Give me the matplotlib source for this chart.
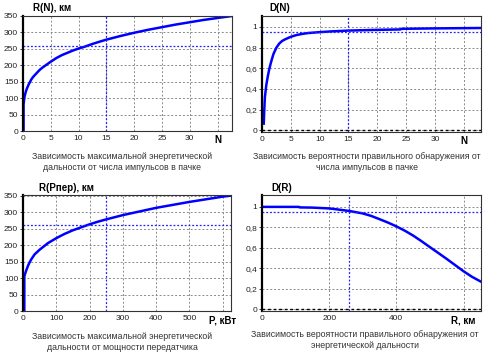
import numpy as np
import matplotlib
matplotlib.use("Agg")
import matplotlib.pyplot as plt

plt.rcParams['font.family'] = ['Liberation Sans', 'DejaVu Sans']

# R(N), km  vs number of pulses
n_r = [0.1, 0.1, 0.2, 0.3, 0.4, 0.55, 0.7, 0.85, 1, 1.25, 1.5, 1.75, 2, 2.5, 3, 3.5, 4, 4.5, 5, 6, 7, 8, 9, 10,
       11, 12.5, 14, 15, 17.5, 20, 22.5, 25, 27.5, 30, 32.5, 35, 37.6]
r_n = [0, 80, 95, 106, 113, 122, 129, 135, 141, 149, 157, 163, 168, 177, 186, 193, 199, 205, 211, 222, 231, 238, 245, 251,
       256, 265, 273, 278, 289, 299, 308, 316, 324, 331, 338, 344, 350]

# D(N)
n_d = [0.3, 0.4, 0.5, 0.75, 1, 1.25, 1.5, 1.75, 2, 2.5, 3, 3.5, 4, 5, 6, 7, 8, 10, 12, 15, 20, 24, 24.2, 30, 38]
d_n = [0.065, 0.2, 0.32, 0.44, 0.52, 0.59, 0.645, 0.695, 0.74, 0.8, 0.84, 0.865, 0.88, 0.905, 0.922, 0.933, 0.941,
       0.95, 0.957, 0.965, 0.972, 0.976, 0.982, 0.986, 0.99]

# R(Pper), km vs transmitter power, kW
p_r = [4, 4, 6, 10, 15, 20, 25, 35, 50, 75, 100, 125, 150, 175, 200, 225, 250, 300, 350, 400, 450, 500, 550, 600, 625]
r_p = [0, 105, 112, 124, 137, 148, 157, 172, 186, 206, 221, 234, 245, 254, 263, 271, 278, 291, 302, 313, 322, 331, 339,
       347, 350]

# D(R)
r_d = [0, 110, 112, 150, 200, 225, 260, 300, 325, 350, 375, 400, 425, 450, 475, 500, 525, 550, 575, 600, 625, 652]
d_r = [1.0, 1.0, 0.995, 0.993, 0.985, 0.975, 0.96, 0.936, 0.912, 0.88, 0.847, 0.81, 0.768, 0.72, 0.665, 0.607, 0.55,
       0.492, 0.432, 0.372, 0.318, 0.27]

n_mark, r_mark, d_mark, p_mark, rr_mark = 15, 260, 0.95, 250, 260

W, H = 488, 358
fig = plt.figure(figsize=(W / 100, H / 100), dpi=100)
fig.patch.set_facecolor('white')


def box(l, r, t, b):
    return [l / W, (H - b) / H, (r - l) / W, (b - t) / H]


grid_kw = dict(color='#8a8a8a', linestyle=(0, (2, 2)), linewidth=0.7)
mark_kw = dict(color='#2020ff', linestyle=(0, (1.5, 1.5)), linewidth=0.9)


def style(ax, xticks, xlabels, yticks, ylabels):
    ax.set_xticks(xticks)
    ax.set_xticklabels(xlabels)
    ax.set_yticks(yticks)
    ax.set_yticklabels(ylabels)
    ax.grid(True, **grid_kw)
    ax.tick_params(axis='both', labelsize=6, length=2, width=0.6, pad=1.5, colors='#222222')
    ax.tick_params(axis='x', length=0, pad=3)
    for s in ax.spines.values():
        s.set_linewidth(0.8)
        s.set_color('#333333')
    ax.spines['left'].set_linewidth(1.6)
    ax.spines['left'].set_color('black')
    labs = ax.get_xticklabels()
    labs[-1].set_fontweight('bold')
    labs[-1].set_fontsize(7)
    labs[-1].set_color('black')


# panel 1
ax1 = fig.add_axes(box(23, 232, 16, 131))
ax1.plot(n_r, r_n, color='blue', lw=1.8)
ax1.axvline(n_mark, **mark_kw)
ax1.axhline(r_mark, **mark_kw)
ax1.set_xlim(0, 37.6)
ax1.set_ylim(0, 350)
style(ax1, range(0, 40, 5), ['0', '5', '10', '15', '20', '25', '30', 'N'],
      range(0, 400, 50), [str(v) for v in range(0, 400, 50)])

# panel 2
ax2 = fig.add_axes(box(262, 481, 16, 132))
ax2.plot(n_d, d_n, color='blue', lw=1.8)
ax2.axvline(n_mark, **mark_kw)
ax2.axhline(d_mark, **mark_kw)
ax2.axhline(0, color='black', linestyle=(0, (2, 2)), linewidth=1)
ax2.set_xlim(0, 38)
ax2.set_ylim(-0.016, 1.106)
style(ax2, range(0, 40, 5), ['0', '5', '10', '15', '20', '25', '30', 'N'],
      [0, 0.2, 0.4, 0.6, 0.8, 1], ['0', '0,2', '0,4', '0,6', '0,8', '1'])

# panel 3
ax3 = fig.add_axes(box(23, 231, 195, 311))
ax3.plot(p_r, r_p, color='blue', lw=1.8)
ax3.axvline(p_mark, **mark_kw)
ax3.axhline(r_mark, **mark_kw)
ax3.set_xlim(0, 625)
ax3.set_ylim(0, 352)
style(ax3, range(0, 700, 100), ['0', '100', '200', '300', '400', '500', 'P, кВт'],
      range(0, 400, 50), [str(v) for v in range(0, 400, 50)])

# panel 4
ax4 = fig.add_axes(box(262, 481, 195, 311))
ax4.plot(r_d, d_r, color='blue', lw=1.8)
ax4.axvline(rr_mark, **mark_kw)
ax4.axhline(d_mark, **mark_kw)
ax4.axhline(0, color='black', linestyle=(0, (2, 2)), linewidth=1)
ax4.set_xlim(0, 652)
ax4.set_ylim(-0.016, 1.116)
style(ax4, [0, 200, 400, 600], ['0', '200', '400', 'R, км'],
      [0, 0.2, 0.4, 0.6, 0.8, 1], ['0', '0,2', '0,4', '0,6', '0,8', '1'])

# titles
for x, y, s in [(33, 8, 'R(N), км'), (269, 8, 'D(N)'),
                (39, 188, 'R(Pпер), км'), (271, 188, 'D(R)')]:
    fig.text(x / W, 1 - y / H, s, fontsize=7, fontweight='bold', ha='left', va='center')

# captions
caps = [
    (122, 157, 'Зависимость максимальной энергетической\nдальности от числа импульсов в пачке'),
    (367, 157, 'Зависимость вероятности правильного обнаружения от\nчисла импульсов в пачке'),
    (122, 337, 'Зависимость максимальной энергетической\nдальности от мощности передатчика'),
    (365, 335, 'Зависимость вероятности правильного обнаружения от\nэнергетической дальности'),
]
for x, y, s in caps:
    fig.text(x / W, 1 - (y + 5) / H, s, fontsize=6.3, ha='center', va='center',
             color='#333333', linespacing=1.25)

fig.savefig('out.png', dpi=100)
